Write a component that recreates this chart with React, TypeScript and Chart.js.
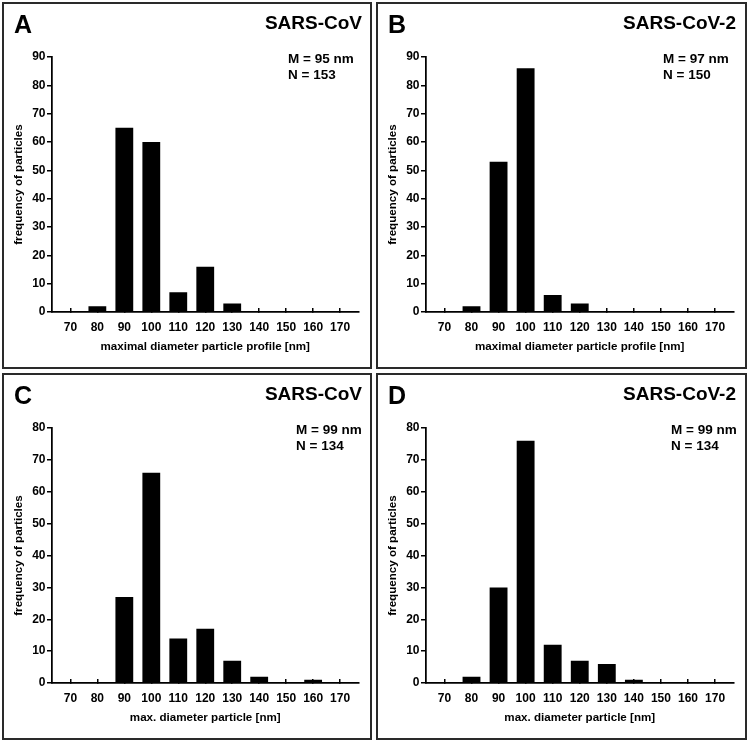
import React, { useEffect, useRef } from "react";
import { Chart, registerables } from "chart.js";

Chart.register(...registerables);

// ---- data ----
const DIAMETERS = [70, 80, 90, 100, 110, 120, 130, 140, 150, 160, 170];
const COUNTS_A = [0, 2, 65, 60, 7, 16, 3, 0, 0, 0, 0];
const COUNTS_B = [0, 2, 53, 86, 6, 3, 0, 0, 0, 0, 0];
const COUNTS_C = [0, 0, 27, 66, 14, 17, 7, 2, 0, 1, 0];
const COUNTS_D = [0, 2, 30, 76, 12, 7, 6, 1, 0, 0, 0];
const Y_MAX = [90, 90, 80, 80];
const Y_STEP = 10;
const LETTERS = ["A", "B", "C", "D"];
const TITLES = ["SARS-CoV", "SARS-CoV-2", "SARS-CoV", "SARS-CoV-2"];
const STATS_M = ["M = 95 nm", "M = 97 nm", "M = 99 nm", "M = 99 nm"];
const STATS_N = ["N = 153", "N = 150", "N = 134", "N = 134"];
const X_TITLES = [
  "maximal diameter particle profile [nm]",
  "maximal diameter particle profile [nm]",
  "max. diameter particle [nm]",
  "max. diameter particle [nm]",
];
const Y_TITLE = "frequency of particles";

const FAMILY = '"Liberation Sans", Arial, Helvetica, sans-serif';

type PanelProps = {
  left: number;
  top: number;
  width: number;
  height: number;
  counts: number[];
  yMax: number;
  letter: string;
  title: string;
  statM: string;
  statN: string;
  xTitle: string;
  statsX: number;
};

function Panel(p: PanelProps) {
  const ref = useRef<HTMLCanvasElement>(null);
  const cw = p.width - 4;
  const ch = p.height - 4;

  useEffect(() => {
    if (!ref.current) return;
    const textPlugin = {
      id: "panelText",
      afterDraw(chart: any) {
        const ctx = chart.ctx as CanvasRenderingContext2D;
        ctx.save();
        ctx.fillStyle = "#000";
        ctx.textBaseline = "alphabetic";
        ctx.font = `bold 25px ${FAMILY}`;
        ctx.textAlign = "left";
        ctx.fillText(p.letter, 10, 29);
        ctx.font = `bold 19px ${FAMILY}`;
        ctx.textAlign = "right";
        ctx.fillText(p.title, 358, 24.5);
        ctx.font = `bold 13.5px ${FAMILY}`;
        ctx.textAlign = "left";
        ctx.fillText(p.statM, p.statsX, 59);
        ctx.fillText(p.statN, p.statsX, 74.5);
        ctx.restore();
      },
    };

    const tickFont = { family: FAMILY, size: 12, weight: "bold" as const };
    const titleFont = { family: FAMILY, size: 11.6, weight: "bold" as const };

    const chart = new Chart(ref.current, {
      type: "bar",
      data: {
        datasets: [
          {
            data: DIAMETERS.map((x, i) => ({ x, y: p.counts[i] })),
            backgroundColor: "#000",
            borderWidth: 0,
            barPercentage: 0.66,
            categoryPercentage: 1,
          },
        ],
      },
      options: {
        animation: false,
        responsive: false,
        devicePixelRatio: 1,
        layout: { padding: { top: 53, right: 11, left: 0, bottom: 0 } },
        plugins: { legend: { display: false }, tooltip: { enabled: false } },
        scales: {
          x: {
            type: "linear",
            min: 63,
            max: 177,
            offset: false,
            bounds: "data",
            afterBuildTicks: (axis: any) => {
              axis.ticks = DIAMETERS.map((v) => ({ value: v }));
            },
            afterFit: (s: any) => {
              s.height = 55;
            },
            ticks: {
              autoSkip: false,
              maxRotation: 0,
              minRotation: 0,
              padding: 12.5,
              color: "#000",
              font: tickFont,
              callback: (v: any) => String(v),
            },
            grid: {
              offset: false,
              drawOnChartArea: false,
              drawTicks: true,
              tickLength: -4,
              color: "#000",
              lineWidth: 1.5,
            },
            border: { display: true, color: "#000", width: 1.75 },
            title: {
              display: true,
              text: p.xTitle,
              color: "#000",
              font: titleFont,
              padding: { top: 0, bottom: 13 },
            },
          },
          y: {
            type: "linear",
            min: 0,
            max: p.yMax,
            afterFit: (s: any) => {
              s.width = 47.5;
            },
            ticks: {
              stepSize: Y_STEP,
              padding: 1.5,
              color: "#000",
              font: tickFont,
            },
            grid: {
              drawOnChartArea: false,
              drawTicks: true,
              tickLength: 4.5,
              color: "#000",
              lineWidth: 1.5,
            },
            border: { display: true, color: "#000", width: 1.75 },
            title: {
              display: true,
              text: Y_TITLE,
              color: "#000",
              font: titleFont,
              padding: { top: 7.5, bottom: 0 },
            },
          },
        },
      },
      plugins: [textPlugin],
    } as any);
    return () => chart.destroy();
  }, []);

  return (
    <div
      style={{
        position: "absolute",
        left: p.left,
        top: p.top,
        width: p.width,
        height: p.height,
        boxSizing: "border-box",
        border: "2px solid #2a2a2a",
        background: "#fff",
      }}
    >
      <canvas
        ref={ref}
        width={cw}
        height={ch}
        style={{ position: "absolute", left: 0, top: 0, width: cw, height: ch }}
      />
    </div>
  );
}

export default function App() {
  const counts = [COUNTS_A, COUNTS_B, COUNTS_C, COUNTS_D];
  const lefts = [2, 376, 2, 376];
  const tops = [2, 2, 373, 373];
  const widths = [370, 371, 370, 371];
  const statsXs = [284, 285, 292, 293];
  return (
    <div
      style={{
        position: "absolute",
        left: 0,
        top: 0,
        width: 749,
        height: 744,
        background: "#fff",
      }}
    >
      {counts.map((c, i) => (
        <Panel
          key={i}
          left={lefts[i]}
          top={tops[i]}
          width={widths[i]}
          height={367}
          counts={c}
          yMax={Y_MAX[i]}
          letter={LETTERS[i]}
          title={TITLES[i]}
          statM={STATS_M[i]}
          statN={STATS_N[i]}
          xTitle={X_TITLES[i]}
          statsX={statsXs[i]}
        />
      ))}
    </div>
  );
}
